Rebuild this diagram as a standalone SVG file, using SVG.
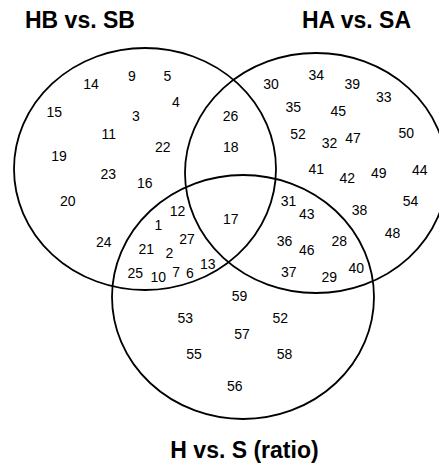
<svg xmlns="http://www.w3.org/2000/svg" width="439" height="469" viewBox="0 0 439 469">
<style>
.set{fill:none;stroke:#000;stroke-width:1.8}
.title{font-family:"Liberation Sans",Arial,sans-serif;font-weight:bold;font-size:23px;fill:#000}
.n{font-family:"Liberation Sans",Arial,sans-serif;font-size:14px;fill:#000;text-anchor:middle}
</style>
<rect width="439" height="469" fill="#fff"/>
<g id="set-HB-SB">
<ellipse class="set" cx="145" cy="169" rx="131" ry="121"/>
<text class="title" x="25" y="27.5">HB vs. SB</text>
</g>
<g id="set-HA-SA">
<ellipse class="set" cx="316" cy="173" rx="131" ry="120"/>
<text class="title" x="302" y="27.5">HA vs. SA</text>
</g>
<g id="set-H-S">
<ellipse class="set" cx="243" cy="297" rx="131" ry="122"/>
<text class="title" x="244.5" y="458" text-anchor="middle">H vs. S (ratio)</text>
</g>
<g id="connectors"></g>
<g id="labels">
<text class="n" x="91" y="89">14</text>
<text class="n" x="132" y="80.7">9</text>
<text class="n" x="167.5" y="80.7">5</text>
<text class="n" x="176" y="107.3">4</text>
<text class="n" x="54.3" y="116.7">15</text>
<text class="n" x="135.8" y="120.7">3</text>
<text class="n" x="108.8" y="139">11</text>
<text class="n" x="162.8" y="152.3">22</text>
<text class="n" x="59" y="161">19</text>
<text class="n" x="108.3" y="179">23</text>
<text class="n" x="144.8" y="188.3">16</text>
<text class="n" x="67.8" y="206">20</text>
<text class="n" x="103.8" y="246.7">24</text>
<text class="n" x="177.5" y="216">12</text>
<text class="n" x="158.3" y="230">1</text>
<text class="n" x="187" y="244">27</text>
<text class="n" x="146.2" y="254">21</text>
<text class="n" x="169.5" y="257.7">2</text>
<text class="n" x="207.8" y="269">13</text>
<text class="n" x="135.3" y="278.3">25</text>
<text class="n" x="158.2" y="281.7">10</text>
<text class="n" x="176.2" y="277.3">7</text>
<text class="n" x="189.8" y="278.3">6</text>
<text class="n" x="230.5" y="120.7">26</text>
<text class="n" x="230.8" y="151.7">18</text>
<text class="n" x="230.8" y="224">17</text>
<text class="n" x="271" y="89.3">30</text>
<text class="n" x="316.2" y="80">34</text>
<text class="n" x="352.2" y="89.3">39</text>
<text class="n" x="383.8" y="102.3">33</text>
<text class="n" x="293.3" y="111.7">35</text>
<text class="n" x="338.3" y="116">45</text>
<text class="n" x="298" y="139">52</text>
<text class="n" x="329.5" y="147.7">32</text>
<text class="n" x="353" y="143.3">47</text>
<text class="n" x="406.2" y="138.3">50</text>
<text class="n" x="316.2" y="174">41</text>
<text class="n" x="347.2" y="183.3">42</text>
<text class="n" x="378.7" y="178.3">49</text>
<text class="n" x="419.8" y="175">44</text>
<text class="n" x="359.5" y="215">38</text>
<text class="n" x="410.6" y="206">54</text>
<text class="n" x="392.5" y="237.5">48</text>
<text class="n" x="288.5" y="206">31</text>
<text class="n" x="306.7" y="219">43</text>
<text class="n" x="284.5" y="246">36</text>
<text class="n" x="339.2" y="246">28</text>
<text class="n" x="306.7" y="255">46</text>
<text class="n" x="356.2" y="272.7">40</text>
<text class="n" x="288.8" y="277.3">37</text>
<text class="n" x="329.2" y="281.7">29</text>
<text class="n" x="239.5" y="300.5">59</text>
<text class="n" x="185.3" y="323.3">53</text>
<text class="n" x="280.3" y="323.3">52</text>
<text class="n" x="242" y="339.3">57</text>
<text class="n" x="194" y="359.3">55</text>
<text class="n" x="284.5" y="359.3">58</text>
<text class="n" x="234.7" y="391">56</text>
</g>
</svg>
